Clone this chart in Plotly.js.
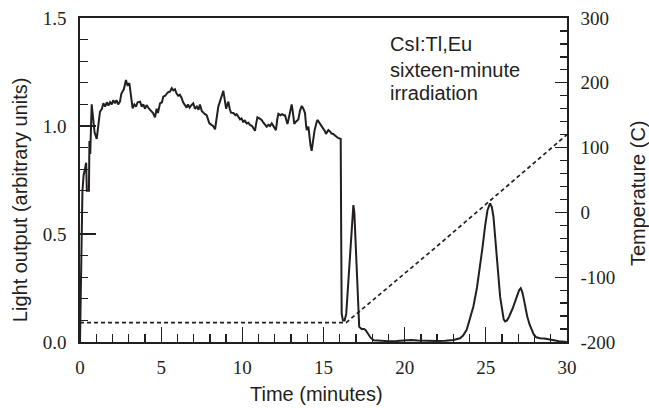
<!DOCTYPE html>
<html>
<head>
<meta charset="utf-8">
<script src="https://cdn.plot.ly/plotly-3.0.1.min.js"></script>
<style>
html,body{margin:0;padding:0;background:#fff;}
#chart{width:649px;height:408px;}
#chart g.xtick > text, #chart g.ytick > text, #chart g.y2tick > text { font-family: "Liberation Serif", "Times New Roman", serif !important; }
</style>
</head>
<body>
<div id="chart"></div>
<script>
// Light output trace (time in minutes, arbitrary units)
const timeLight = [
  0, 0.15, 0.22, 0.3, 0.38, 0.42, 0.55, 0.58, 0.63, 0.72, 0.8, 0.9, 1.03, 1.13, 1.23, 1.35, 1.44, 1.55, 1.65, 1.75,
  1.85, 1.95, 2.05, 2.15, 2.25, 2.35, 2.46, 2.55, 2.7, 2.83, 2.92, 3.04, 3.12, 3.24, 3.35, 3.45, 3.55, 3.7, 3.8, 3.9,
  4.0, 4.1, 4.25, 4.4, 4.5, 4.62, 4.72, 4.8, 4.93, 5.05, 5.13, 5.25, 5.4, 5.55, 5.65, 5.75, 5.85, 5.95, 6.05, 6.15,
  6.26, 6.35, 6.45, 6.57, 6.65, 6.75, 6.85, 6.98, 7.08, 7.2, 7.3, 7.39, 7.5, 7.6, 7.7, 7.8, 7.9, 7.97, 8.1, 8.2,
  8.32, 8.42, 8.52, 8.65, 8.75, 8.83, 8.92, 9.0, 9.08, 9.14, 9.22, 9.3, 9.45, 9.57, 9.65, 9.75, 9.86, 9.95, 10.05, 10.15,
  10.27, 10.37, 10.47, 10.6, 10.7, 10.78, 10.85, 10.93, 11.05, 11.19, 11.3, 11.4, 11.5, 11.6, 11.7, 11.81, 11.9, 12.0, 12.07, 12.15,
  12.22, 12.35, 12.45, 12.55, 12.63, 12.7, 12.78, 12.9, 13.04, 13.12, 13.2, 13.3, 13.45, 13.55, 13.66, 13.76, 13.86, 13.93, 13.97, 14.07,
  14.12, 14.2, 14.27, 14.35, 14.45, 14.55, 14.62, 14.7, 14.8, 14.89, 15.0, 15.1, 15.15, 15.22, 15.3, 15.4, 15.5, 15.6, 15.7, 15.8,
  15.9, 16.02, 16.06, 16.09, 16.12, 16.2, 16.3, 16.4, 16.55, 16.7, 16.8, 16.84, 16.9, 17.0, 17.1, 17.2, 17.35, 17.5, 17.6, 17.75,
  17.9, 18.1, 18.5, 19.0, 19.5, 20.0, 20.4, 20.8, 21.5, 22.0, 22.5, 23.0, 23.41, 23.6, 23.82, 24.0, 24.23, 24.45, 24.65, 24.8,
  24.95, 25.1, 25.26, 25.37, 25.47, 25.57, 25.67, 25.78, 25.88, 26.0, 26.1, 26.19, 26.3, 26.4, 26.5, 26.65, 26.8, 26.95, 27.05, 27.15,
  27.25, 27.35, 27.45, 27.55, 27.7, 27.85, 27.95, 28.1, 28.34, 28.6, 28.96, 29.2, 29.5, 29.8, 30.0
];
const lightOutput = [
  0, 0.70, 0.77, 0.80, 0.83, 0.70, 0.70, 0.93, 0.87, 1.10, 1.03, 0.97, 0.94, 1.00, 1.066, 1.08, 1.105, 1.09, 1.11, 1.095,
  1.11, 1.10, 1.12, 1.105, 1.12, 1.10, 1.113, 1.15, 1.17, 1.213, 1.19, 1.198, 1.15, 1.082, 1.10, 1.09, 1.11, 1.113, 1.09, 1.10,
  1.08, 1.097, 1.08, 1.07, 1.06, 1.04, 1.08, 1.06, 1.105, 1.11, 1.136, 1.14, 1.155, 1.16, 1.175, 1.165, 1.17, 1.15, 1.14, 1.145,
  1.13, 1.11, 1.10, 1.085, 1.10, 1.085, 1.095, 1.105, 1.08, 1.09, 1.075, 1.10, 1.07, 1.06, 1.055, 1.05, 1.03, 1.012, 1.005, 1.00,
  0.985, 1.04, 1.09, 1.12, 1.14, 1.163, 1.12, 1.08, 1.10, 1.113, 1.08, 1.062, 1.06, 1.05, 1.055, 1.04, 1.031, 1.035, 1.02, 1.025,
  1.012, 1.015, 1.005, 1.00, 0.99, 0.978, 1.01, 1.04, 1.035, 1.028, 1.015, 1.005, 0.997, 1.005, 1.00, 1.012, 1.00, 0.985, 0.981, 1.03,
  1.056, 1.05, 1.055, 1.05, 1.05, 1.03, 1.009, 1.05, 1.10, 1.06, 1.01, 1.02, 1.03, 1.07, 1.093, 1.08, 1.06, 1.00, 0.981, 0.997,
  0.95, 0.91, 0.885, 0.93, 0.98, 1.01, 1.028, 1.02, 1.01, 1.00, 0.99, 0.975, 0.963, 0.975, 0.981, 0.975, 0.965, 0.963, 0.955, 0.95,
  0.945, 0.943, 0.94, 0.50, 0.13, 0.10, 0.10, 0.13, 0.30, 0.52, 0.62, 0.634, 0.60, 0.40, 0.18, 0.07, 0.06, 0.06, 0.055, 0.04,
  0.02, 0.008, 0.005, 0.004, 0.005, 0.007, 0.009, 0.007, 0.005, 0.005, 0.006, 0.009, 0.017, 0.03, 0.056, 0.10, 0.163, 0.25, 0.349, 0.44,
  0.534, 0.61, 0.642, 0.625, 0.58, 0.50, 0.41, 0.30, 0.21, 0.14, 0.105, 0.095, 0.10, 0.112, 0.127, 0.155, 0.187, 0.22, 0.240, 0.249,
  0.23, 0.195, 0.155, 0.118, 0.08, 0.05, 0.035, 0.022, 0.017, 0.016, 0.013, 0.008, 0.004, 0.001, 0.0
];

// Temperature trace (time in minutes, degrees C)
const timeTemp = [0, 16.4, 22, 30];
const temperature = [-170, -170, -52, 120];

// Tick labels
const xTickVals = [0, 5, 10, 15, 20, 25, 30];
const xTickText = ["0", "5", "10", "15", "20", "25", "30"];
const yLeftTickVals = [0, 0.5, 1.0, 1.5];
const yLeftTickText = ["0.0", "0.5", "1.0", "1.5"];
const yRightTickVals = [-200, -100, 0, 100, 200, 300];
const yRightTickText = ["-200", "-100", "0", "100", "200", "300"];

// Text
const xTitle = "Time (minutes)";
const yLeftTitle = "Light output (arbitrary units)";
const yRightTitle = "Temperature (C)";
const noteLines = ["CsI:Tl,Eu", "sixteen-minute", "irradiation"];

const ink = "#231f20";
const SERIF = "Liberation Serif";
const SANS = "Liberation Sans";

const traces = [
  {x: timeLight, y: lightOutput, type: "scatter", mode: "lines",
   line: {color: ink, width: 2}, hoverinfo: "skip", showlegend: false},
  {x: timeTemp, y: temperature, type: "scatter", mode: "lines", yaxis: "y2",
   line: {color: ink, width: 1.7, dash: "4px,3px"}, hoverinfo: "skip", showlegend: false}
];

const noteY = [1.380, 1.259, 1.153];
const annotations = noteLines.map((t, i) => ({
  text: t, xref: "x", yref: "y", x: 18.95, y: noteY[i], xanchor: "left", yanchor: "middle",
  showarrow: false, font: {family: SANS, size: 20, color: ink}
}));
annotations.push(
  {text: xTitle, xref: "x", yref: "paper", x: 14.58, y: -0.16, xanchor: "center", yanchor: "middle", showarrow: false, font: {family: SANS, size: 20, color: ink}},
  {text: yLeftTitle, xref: "paper", yref: "paper", x: -0.123, y: 0.438, xanchor: "center", yanchor: "middle", textangle: -90, showarrow: false, font: {family: SANS, size: 20, color: ink}},
  {text: yRightTitle, xref: "paper", yref: "paper", x: 1.146, y: 0.46, xanchor: "center", yanchor: "middle", textangle: -90, showarrow: false, font: {family: SANS, size: 20, color: ink}}
);

const tickFont = {family: SERIF, size: 19, color: ink};

const layout = {
  width: 649, height: 408,
  margin: {l: 80, r: 82, t: 18, b: 66, pad: 0},
  paper_bgcolor: "#ffffff", plot_bgcolor: "#ffffff",
  showlegend: false,
  font: {family: SERIF, size: 19, color: ink},
  xaxis: {
    range: [0, 30], tickvals: xTickVals, ticktext: xTickText,
    ticks: "inside", ticklen: 15, tickwidth: 1.3, tickcolor: ink,
    minor: {dtick: 1, ticks: "inside", ticklen: 8, tickwidth: 1.3, tickcolor: ink},
    showline: true, linewidth: 1.6, linecolor: ink, mirror: true,
    showgrid: false, zeroline: false,
    tickfont: tickFont, ticklabelstandoff: 8
  },
  yaxis: {
    range: [0, 1.5], tickvals: yLeftTickVals, ticktext: yLeftTickText,
    ticks: "inside", ticklen: 16, tickwidth: 1.3, tickcolor: ink,
    minor: {dtick: 0.1, ticks: "inside", ticklen: 8, tickwidth: 1.3, tickcolor: ink},
    showline: true, linewidth: 1.6, linecolor: ink,
    showgrid: false, zeroline: false,
    tickfont: tickFont, ticklabelstandoff: 8
  },
  yaxis2: {
    overlaying: "y", side: "right", anchor: "x",
    range: [-200, 300], tickvals: yRightTickVals, ticktext: yRightTickText,
    ticks: "inside", ticklen: 12, tickwidth: 1.3, tickcolor: ink,
    minor: {dtick: 20, ticks: "inside", ticklen: 7, tickwidth: 1.3, tickcolor: ink},
    showline: true, linewidth: 1.6, linecolor: ink,
    showgrid: false, zeroline: false,
    tickfont: tickFont, ticklabelstandoff: 8
  },
  annotations: annotations
};

function forceSerifTicks(gd) {
  gd.querySelectorAll("g.xtick text, g.ytick text, g.y2tick text").forEach(el => {
    el.style.setProperty("font-family", "\"Liberation Serif\", \"Times New Roman\", serif", "important");
  });
}

const gd = document.getElementById("chart");
Plotly.newPlot(gd, traces, layout, {staticPlot: true}).then(() => {
  forceSerifTicks(gd);
  gd.on("plotly_afterplot", () => forceSerifTicks(gd));
});
</script>
</body>
</html>
